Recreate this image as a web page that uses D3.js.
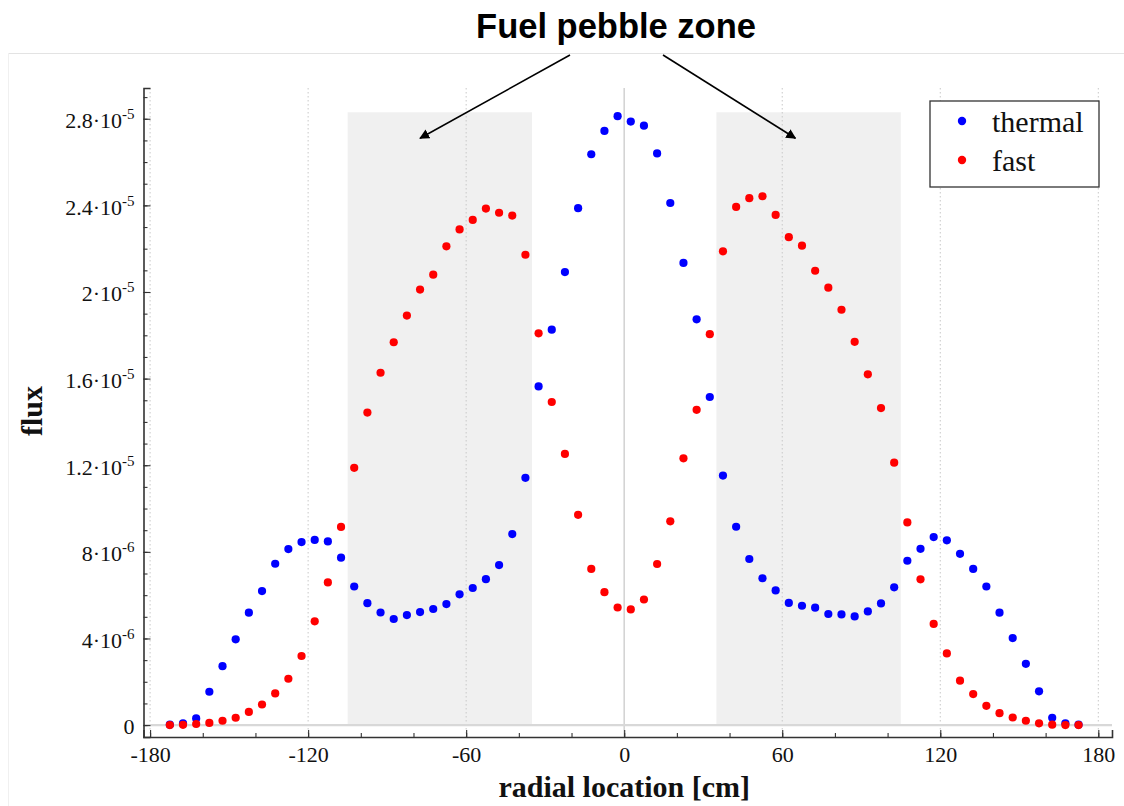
<!DOCTYPE html>
<html>
<head>
<meta charset="utf-8">
<script src="https://cdn.jsdelivr.net/npm/d3@7"></script>
<style>
  body { margin: 0; background: #fff; }
  svg { display: block; }
</style>
</head>
<body>
<svg id="chart" width="1124" height="806"></svg>
<script>
// Radial positions of the flux samples [cm]
const radius = [
  -172.5, -167.5, -162.5, -157.5, -152.5, -147.5, -142.5, -137.5, -132.5, -127.5,
  -122.5, -117.5, -112.5, -107.5, -102.5, -97.5, -92.5, -87.5, -82.5, -77.5,
  -72.5, -67.5, -62.5, -57.5, -52.5, -47.5, -42.5, -37.5, -32.5, -27.5,
  -22.5, -17.5, -12.5, -7.5, -2.5, 2.5, 7.5, 12.5, 17.5, 22.5,
  27.5, 32.5, 37.5, 42.5, 47.5, 52.5, 57.5, 62.5, 67.5, 72.5,
  77.5, 82.5, 87.5, 92.5, 97.5, 102.5, 107.5, 112.5, 117.5, 122.5,
  127.5, 132.5, 137.5, 142.5, 147.5, 152.5, 157.5, 162.5, 167.5, 172.5
];

// flux values, in units of 1e-6
const thermal = [
  0.02, 0.08, 0.31, 1.54, 2.72, 3.96, 5.19, 6.19, 7.45, 8.13,
  8.45, 8.55, 8.48, 7.73, 6.40, 5.63, 5.20, 4.90, 5.08, 5.22,
  5.36, 5.59, 6.04, 6.33, 6.74, 7.39, 8.82, 11.42, 15.64, 18.26,
  20.92, 23.87, 26.36, 27.44, 28.12, 27.87, 27.68, 26.40, 24.11, 21.34,
  18.74, 15.15, 11.52, 9.16, 7.67, 6.78, 6.22, 5.64, 5.51, 5.42,
  5.13, 5.11, 5.02, 5.25, 5.62, 6.36, 7.59, 8.14, 8.68, 8.53,
  7.91, 7.21, 6.40, 5.19, 4.02, 2.83, 1.56, 0.34, 0.08, 0.02
];

const fast = [
  0.00, 0.01, 0.05, 0.10, 0.20, 0.34, 0.61, 0.95, 1.46, 2.14,
  3.19, 4.79, 6.59, 9.15, 11.88, 14.43, 16.27, 17.68, 18.91, 20.11,
  20.80, 22.11, 22.89, 23.33, 23.85, 23.66, 23.53, 21.72, 18.09, 14.92,
  12.52, 9.71, 7.21, 6.14, 5.43, 5.34, 5.80, 7.44, 9.41, 12.32,
  14.56, 18.05, 21.88, 23.93, 24.33, 24.42, 23.56, 22.53, 22.14, 20.98,
  20.20, 19.18, 17.70, 16.20, 14.64, 12.12, 9.36, 6.73, 4.67, 3.31,
  2.05, 1.43, 0.89, 0.55, 0.35, 0.20, 0.08, 0.02, 0.00, 0.00
];

const seriesNames = ['thermal', 'fast'];
const seriesColors = ['#0000ff', '#ff0000'];

const xTicks = [-180, -120, -60, 0, 60, 120, 180];
const xMinorTicks = [-180, -160, -140, -120, -100, -80, -60, -40, -20, 0, 20, 40, 60, 80, 100, 120, 140, 160, 180];
const yTicks = [0, 4, 8, 12, 16, 20, 24, 28];
const yTickMantissa = ['0', '4', '8', '1.2', '1.6', '2', '2.4', '2.8'];
const yTickExponent = ['', '-6', '-6', '-5', '-5', '-5', '-5', '-5'];
const yMinorTicks = [0, 1, 2, 3, 4, 5, 6, 7, 8, 9, 10, 11, 12, 13, 14, 15, 16, 17, 18, 19, 20, 21, 22, 23, 24, 25, 26, 27, 28, 29];

// fuel pebble zones [cm] and the height of the shading (1e-6 units)
const zones = [[-105, -35], [35, 105]];
const zoneTop = 28.3;

const titleText = 'Fuel pebble zone';
const xLabel = 'radial location [cm]';
const yLabel = 'flux';

const svg = d3.select('#chart');

const plotLeft = 143.5, plotRight = 1112, plotTop = 88, plotBottom = 737;

const x = d3.scaleLinear().domain([-182.5, 185.2]).range([plotLeft, plotRight]);
const y = d3.scaleLinear().domain([-0.55, 29.42]).range([plotBottom, plotTop]);

const serif = '"Liberation Serif", "Times New Roman", serif';

// faint frame lines from the original figure
svg.append('line')
  .attr('x1', 8).attr('x2', 1124).attr('y1', 53.5).attr('y2', 53.5)
  .attr('stroke', '#e3e3e3').attr('stroke-width', 1);
svg.append('line')
  .attr('x1', 8.5).attr('x2', 8.5).attr('y1', 53).attr('y2', 806)
  .attr('stroke', '#f0f0f0').attr('stroke-width', 1);

// shaded fuel zones
svg.selectAll('rect.zone')
  .data(zones)
  .enter()
  .append('rect')
  .attr('class', 'zone')
  .attr('x', d => x(d[0]))
  .attr('width', d => x(d[1]) - x(d[0]))
  .attr('y', y(zoneTop))
  .attr('height', y(0) - y(zoneTop))
  .attr('fill', '#f0f0f0');

// dotted vertical gridlines
svg.selectAll('line.grid')
  .data(xTicks.filter(d => d !== 0))
  .enter()
  .append('line')
  .attr('class', 'grid')
  .attr('x1', d => x(d)).attr('x2', d => x(d))
  .attr('y1', plotTop).attr('y2', plotBottom)
  .attr('stroke', '#c8c8c8')
  .attr('stroke-width', 1)
  .attr('stroke-dasharray', '1.5,2.5');

// solid zero lines
svg.append('line')
  .attr('x1', x(0)).attr('x2', x(0))
  .attr('y1', plotTop).attr('y2', plotBottom)
  .attr('stroke', '#d4d4d4').attr('stroke-width', 1.6);
svg.append('line')
  .attr('x1', plotLeft).attr('x2', plotRight)
  .attr('y1', y(0)).attr('y2', y(0))
  .attr('stroke', '#d8d8d8').attr('stroke-width', 2.2);

// axes
const xAxis = svg.append('g')
  .attr('transform', `translate(0,${plotBottom})`)
  .call(d3.axisBottom(x).tickValues(xTicks).tickSize(-7).tickPadding(9).tickFormat(d => d));
svg.append('g')
  .attr('transform', `translate(0,${plotBottom})`)
  .call(d3.axisBottom(x).tickValues(xMinorTicks).tickSize(-4).tickFormat(''))
  .call(g => g.select('.domain').remove());

const yAxis = svg.append('g')
  .attr('transform', `translate(${plotLeft},0)`)
  .call(d3.axisLeft(y).tickValues(yTicks).tickSize(-7).tickFormat(''));
svg.append('g')
  .attr('transform', `translate(${plotLeft},0)`)
  .call(d3.axisLeft(y).tickValues(yMinorTicks).tickSize(-4).tickFormat(''))
  .call(g => g.select('.domain').remove());

svg.selectAll('.domain').attr('stroke', '#333').attr('stroke-width', 1.6);
svg.selectAll('.tick line').attr('stroke', '#333').attr('stroke-width', 1.1);

xAxis.selectAll('.tick text')
  .attr('font-family', serif)
  .attr('font-size', 22)
  .attr('fill', '#111');

// y tick labels with superscript exponents
yAxis.selectAll('.tick text').remove();
yAxis.selectAll('.tick').each(function(d, i) {
  const t = d3.select(this).append('text')
    .attr('x', -9)
    .attr('dy', '0.4em')
    .attr('text-anchor', 'end')
    .attr('font-family', serif)
    .attr('font-size', 22)
    .attr('fill', '#111');
  if (yTickExponent[i] === '') {
    t.text(yTickMantissa[i]);
  } else {
    t.append('tspan').text(yTickMantissa[i] + '\u00b710');
    t.append('tspan').attr('dy', -9).attr('font-size', 15).text(yTickExponent[i]);
  }
});

// points
const series = [thermal, fast];
series.forEach(function(vals, si) {
  svg.append('g')
    .selectAll('circle')
    .data(vals)
    .enter()
    .append('circle')
    .attr('cx', (d, i) => x(radius[i]))
    .attr('cy', d => y(d))
    .attr('r', 4.1)
    .attr('fill', seriesColors[si]);
});

// axis labels
svg.append('text')
  .attr('x', x(0)).attr('y', 797)
  .attr('text-anchor', 'middle')
  .attr('font-family', serif)
  .attr('font-weight', 'bold')
  .attr('font-size', 30)
  .attr('fill', '#111')
  .text(xLabel);

svg.append('text')
  .attr('transform', `translate(42,411) rotate(-90)`)
  .attr('text-anchor', 'middle')
  .attr('font-family', serif)
  .attr('font-weight', 'bold')
  .attr('font-size', 30)
  .attr('fill', '#111')
  .text(yLabel);

// title + arrows
svg.append('text')
  .attr('x', 616).attr('y', 38)
  .attr('text-anchor', 'middle')
  .attr('font-family', '"Liberation Sans", Arial, sans-serif')
  .attr('font-weight', 'bold')
  .attr('font-size', 34.5)
  .attr('fill', '#000')
  .text(titleText);

svg.append('defs').append('marker')
  .attr('id', 'arrow')
  .attr('viewBox', '0 0 10 10')
  .attr('refX', 9).attr('refY', 5)
  .attr('markerWidth', 10).attr('markerHeight', 10)
  .attr('markerUnits', 'userSpaceOnUse')
  .attr('orient', 'auto')
  .append('path')
  .attr('d', 'M0,0 L10,5 L0,10 Z')
  .attr('fill', '#000');

const arrows = [[570, -77.5], [663, 65]];
arrows.forEach(function(a) {
  svg.append('line')
    .attr('x1', a[0]).attr('y1', 55)
    .attr('x2', x(a[1])).attr('y2', y(27.1))
    .attr('stroke', '#000').attr('stroke-width', 1.6)
    .attr('marker-end', 'url(#arrow)');
});

// legend
const legend = svg.append('g').attr('transform', 'translate(930,101)');
legend.append('rect')
  .attr('width', 169).attr('height', 86)
  .attr('fill', '#fff')
  .attr('stroke', '#333').attr('stroke-width', 1.3);
seriesNames.forEach(function(name, i) {
  legend.append('circle')
    .attr('cx', 32).attr('cy', 20 + i * 39)
    .attr('r', 4.2)
    .attr('fill', seriesColors[i]);
  legend.append('text')
    .attr('x', 62).attr('y', 20 + i * 39)
    .attr('dy', '0.38em')
    .attr('font-family', serif)
    .attr('font-size', 30)
    .attr('fill', '#111')
    .text(name);
});
</script>
</body>
</html>
